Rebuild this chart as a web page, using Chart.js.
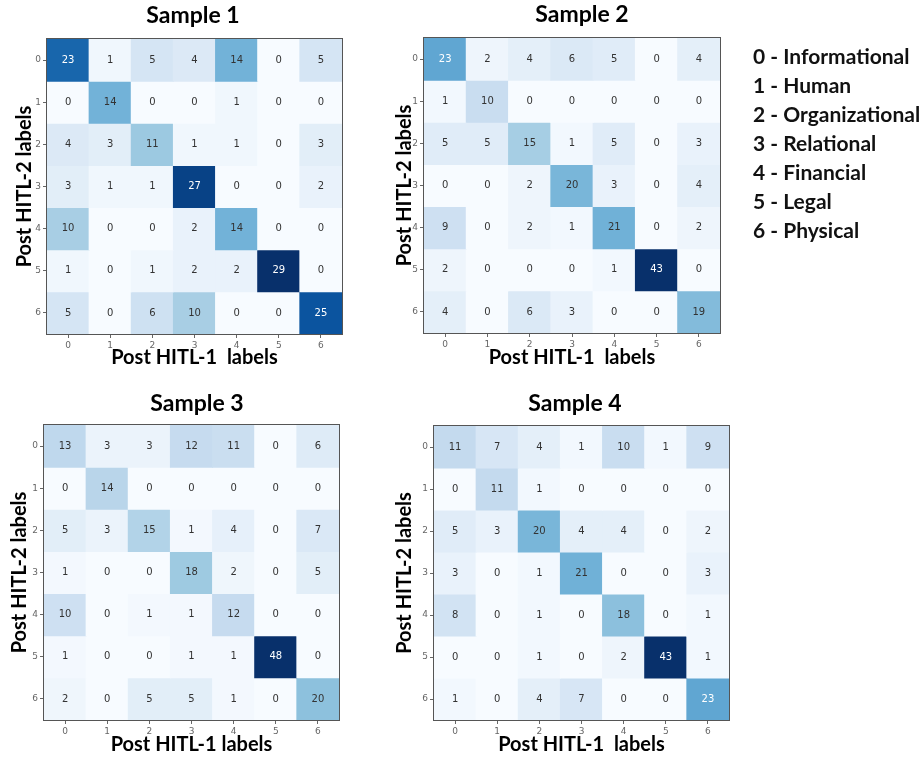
<!DOCTYPE html>
<html>
<head>
<meta charset="utf-8">
<script src="https://cdn.jsdelivr.net/npm/chart.js@4/dist/chart.umd.min.js"></script>
<style>
  body { margin: 0; background: #fff; width: 919px; height: 757px; position: relative; overflow: hidden; }
  canvas { position: absolute; }
  #legend { position: absolute; left: 753px; top: 41px; font: bold 21px Lato, sans-serif; line-height: 29px; color: #111; white-space: nowrap; }
</style>
</head>
<body>
<canvas id="c1" width="386" height="372" style="left:0px;top:0px"></canvas>
<canvas id="c2" width="400" height="375" style="left:382px;top:0px"></canvas>
<canvas id="c3" width="394" height="379" style="left:0px;top:378px"></canvas>
<canvas id="c4" width="380" height="379" style="left:385px;top:378px"></canvas>
<div id="legend"></div>
<script>
const categories = ["0", "1", "2", "3", "4", "5", "6"];
const classNames = ["Informational", "Human", "Organizational", "Relational", "Financial", "Legal", "Physical"];
const sampleTitles = ["Sample 1", "Sample 2", "Sample 3", "Sample 4"];
const xTitles = ["Post HITL-1  labels", "Post HITL-1  labels", "Post HITL-1 labels", "Post HITL-1  labels"];
const yTitle = "Post HITL-2 labels";

// rows = Post HITL-2 label, columns = Post HITL-1 label
const sample1 = [
  [23, 1, 5, 4, 14, 0, 5],
  [0, 14, 0, 0, 1, 0, 0],
  [4, 3, 11, 1, 1, 0, 3],
  [3, 1, 1, 27, 0, 0, 2],
  [10, 0, 0, 2, 14, 0, 0],
  [1, 0, 1, 2, 2, 29, 0],
  [5, 0, 6, 10, 0, 0, 25],
];
const sample2 = [
  [23, 2, 4, 6, 5, 0, 4],
  [1, 10, 0, 0, 0, 0, 0],
  [5, 5, 15, 1, 5, 0, 3],
  [0, 0, 2, 20, 3, 0, 4],
  [9, 0, 2, 1, 21, 0, 2],
  [2, 0, 0, 0, 1, 43, 0],
  [4, 0, 6, 3, 0, 0, 19],
];
const sample3 = [
  [13, 3, 3, 12, 11, 0, 6],
  [0, 14, 0, 0, 0, 0, 0],
  [5, 3, 15, 1, 4, 0, 7],
  [1, 0, 0, 18, 2, 0, 5],
  [10, 0, 1, 1, 12, 0, 0],
  [1, 0, 0, 1, 1, 48, 0],
  [2, 0, 5, 5, 1, 0, 20],
];
const sample4 = [
  [11, 7, 4, 1, 10, 1, 9],
  [0, 11, 1, 0, 0, 0, 0],
  [5, 3, 20, 4, 4, 0, 2],
  [3, 0, 1, 21, 0, 0, 3],
  [8, 0, 1, 0, 18, 0, 1],
  [0, 0, 1, 0, 2, 43, 1],
  [1, 0, 4, 7, 0, 0, 23],
];

// matplotlib "Blues"
const bluesStops = ["#f7fbff", "#deebf7", "#c6dbef", "#9ecae1", "#6baed6", "#4292c6", "#2171b5", "#08519c", "#08306b"];
function hexToRgb(h) {
  return [1, 3, 5].map(i => parseInt(h.slice(i, i + 2), 16));
}
function blues(t) {
  t = Math.max(0, Math.min(1, t));
  const pos = t * (bluesStops.length - 1);
  const i = Math.min(Math.floor(pos), bluesStops.length - 2);
  const f = pos - i;
  const a = hexToRgb(bluesStops[i]);
  const b = hexToRgb(bluesStops[i + 1]);
  const c = a.map((v, k) => Math.round(v + (b[k] - v) * f));
  return `rgb(${c[0]},${c[1]},${c[2]})`;
}

// numbers in the cells + frame round the plot
const cellLabels = {
  id: "cellLabels",
  afterDatasetsDraw(chart, args, opts) {
    const { ctx, chartArea: a } = chart;
    const { x, y } = chart.scales;
    ctx.save();
    ctx.font = '10px "DejaVu Sans"';
    ctx.textAlign = "center";
    ctx.textBaseline = "middle";
    chart.data.datasets.forEach((ds, r) => {
      ds.counts.forEach((v, c) => {
        ctx.fillStyle = v > opts.threshold ? "#ffffff" : "#333333";
        ctx.fillText(String(v), x.getPixelForValue(c), y.getPixelForValue(r));
      });
    });
    ctx.strokeStyle = "#555";
    ctx.lineWidth = 1;
    ctx.strokeRect(Math.round(a.left) - 0.5, Math.round(a.top) - 0.5, Math.round(a.right - a.left) + 1, Math.round(a.bottom - a.top) + 1);
    ctx.restore();
  },
};

// canvas box (left, width, bottom) and plot edges in page pixels
const panels = [
  { id: "c1", matrix: sample1, title: sampleTitles[0], xTitle: xTitles[0], left: 0, width: 386, bottom: 372, plotL: 47, plotR: 342, plotB: 334, titlePad: { top: 2.2, bottom: 9.2 }, yTitlePad: 12.4, xTitlePad: 2 },
  { id: "c2", matrix: sample2, title: sampleTitles[1], xTitle: xTitles[1], left: 382, width: 400, bottom: 375, plotL: 424, plotR: 720, plotB: 333, titlePad: { top: 1.2, bottom: 9.2 }, yTitlePad: 10.4, xTitlePad: 5 },
  { id: "c3", matrix: sample3, title: sampleTitles[2], xTitle: xTitles[2], left: 0, width: 394, bottom: 757, plotL: 44, plotR: 339, plotB: 720, titlePad: { top: 12.2, bottom: 7.2 }, yTitlePad: 6.9, xTitlePad: 0 },
  { id: "c4", matrix: sample4, title: sampleTitles[3], xTitle: xTitles[3], left: 385, width: 380, bottom: 757, plotL: 434, plotR: 729, plotB: 720, titlePad: { top: 12.2, bottom: 8.2 }, yTitlePad: 7.4, xTitlePad: 0 },
];

const tickFont = { family: "DejaVu Sans", size: 9 };
const axisTitleFont = { family: "Lato", size: 20, weight: "bold" };

panels.forEach(p => {
  const flat = p.matrix.flat();
  const vmin = Math.min(...flat);
  const vmax = Math.max(...flat);

  new Chart(document.getElementById(p.id), {
    type: "bar",
    data: {
      labels: categories,
      datasets: p.matrix.map((row, r) => ({
        data: row.map(() => [r - 0.5, r + 0.5]),
        counts: row,
        backgroundColor: row.map(v => blues((v - vmin) / (vmax - vmin))),
        borderWidth: 0,
        grouped: false,
        barPercentage: 1,
        categoryPercentage: 1,
        inflateAmount: 0.5,
      })),
    },
    options: {
      responsive: false,
      animation: false,
      events: [],
      plugins: {
        legend: { display: false },
        tooltip: { enabled: false },
        title: {
          display: true,
          text: p.title,
          color: "#000",
          font: { family: "Lato", size: 23, weight: "bold" },
          padding: p.titlePad,
        },
        cellLabels: { threshold: (vmin + vmax) / 2 },
      },
      scales: {
        x: {
          grid: { offset: false, drawOnChartArea: false, tickLength: 4, color: "#666" },
          border: { display: false },
          ticks: { color: "#666", font: tickFont, padding: 2, maxRotation: 0 },
          title: {
            display: true,
            text: p.xTitle,
            color: "#000",
            font: axisTitleFont,
            padding: { top: 0, bottom: p.xTitlePad },
          },
          afterFit: s => { s.height = p.bottom - p.plotB; },
        },
        y: {
          type: "linear",
          min: -0.5,
          max: 6.5,
          reverse: true,
          afterBuildTicks: s => { s.ticks = categories.map((_, i) => ({ value: i })); },
          grid: { drawOnChartArea: false, tickLength: 4, color: "#666" },
          border: { display: false },
          ticks: { color: "#666", font: tickFont, padding: 2, callback: v => categories[v] },
          title: {
            display: true,
            text: yTitle,
            color: "#000",
            font: axisTitleFont,
            padding: { top: p.yTitlePad + 0.5, bottom: 0 },
          },
          afterFit: s => { s.width = p.plotL - p.left; },
        },
        // empty box on the right so the title centre lands where it sits in the figure
        spacer: {
          type: "linear",
          position: "right",
          grid: { display: false },
          border: { display: false },
          ticks: { display: false },
          afterFit: s => { s.width = p.left + p.width - p.plotR; },
        },
      },
    },
    plugins: [cellLabels],
  });
});

document.getElementById("legend").innerHTML = classNames
  .map((name, i) => `<div>${categories[i]} - ${name}</div>`)
  .join("");
</script>
</body>
</html>
